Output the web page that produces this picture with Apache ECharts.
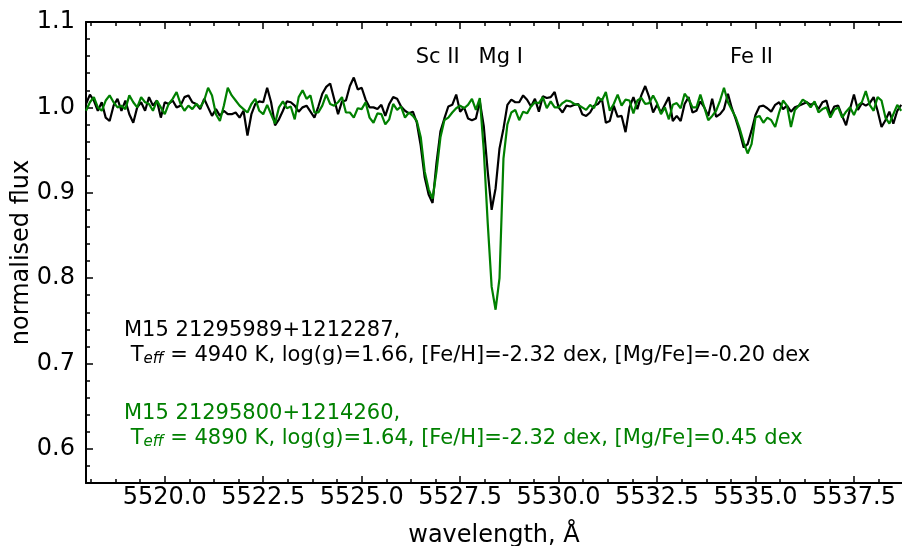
<!DOCTYPE html>
<html>
<head>
  <meta charset="UTF-8">
  <title>M15 spectra, Sc II / Mg I / Fe II</title>
  <script src="https://cdn.jsdelivr.net/npm/echarts@6/dist/echarts.min.js"></script>
  <style>
    html, body { margin: 0; background: #fff; }
    #chart { width: 902px; height: 546px; }
  </style>
</head>
<body>
<div id="chart"></div>
<script>
// wavelength grid (A), shared by both spectra
const wavelength = [
  5518.0,5518.1,5518.2,5518.3,5518.4,5518.5,5518.6,5518.7,5518.8,5518.9,
  5519.0,5519.1,5519.2,5519.3,5519.4,5519.5,5519.6,5519.7,5519.8,5519.9,
  5520.0,5520.1,5520.2,5520.3,5520.4,5520.5,5520.6,5520.7,5520.8,5520.9,
  5521.0,5521.1,5521.2,5521.3,5521.4,5521.5,5521.6,5521.7,5521.8,5521.9,
  5522.0,5522.1,5522.2,5522.3,5522.4,5522.5,5522.6,5522.7,5522.8,5522.9,
  5523.0,5523.1,5523.2,5523.3,5523.4,5523.5,5523.6,5523.7,5523.8,5523.9,
  5524.0,5524.1,5524.2,5524.3,5524.4,5524.5,5524.6,5524.7,5524.8,5524.9,
  5525.0,5525.1,5525.2,5525.3,5525.4,5525.5,5525.6,5525.7,5525.8,5525.9,
  5526.0,5526.1,5526.2,5526.3,5526.4,5526.5,5526.6,5526.7,5526.8,5526.9,
  5527.0,5527.1,5527.2,5527.3,5527.4,5527.5,5527.6,5527.7,5527.8,5527.9,
  5528.0,5528.1,5528.2,5528.3,5528.4,5528.5,5528.6,5528.7,5528.8,5528.9,
  5529.0,5529.1,5529.2,5529.3,5529.4,5529.5,5529.6,5529.7,5529.8,5529.9,
  5530.0,5530.1,5530.2,5530.3,5530.4,5530.5,5530.6,5530.7,5530.8,5530.9,
  5531.0,5531.1,5531.2,5531.3,5531.4,5531.5,5531.6,5531.7,5531.8,5531.9,
  5532.0,5532.1,5532.2,5532.3,5532.4,5532.5,5532.6,5532.7,5532.8,5532.9,
  5533.0,5533.1,5533.2,5533.3,5533.4,5533.5,5533.6,5533.7,5533.8,5533.9,
  5534.0,5534.1,5534.2,5534.3,5534.4,5534.5,5534.6,5534.7,5534.8,5534.9,
  5535.0,5535.1,5535.2,5535.3,5535.4,5535.5,5535.6,5535.7,5535.8,5535.9,
  5536.0,5536.1,5536.2,5536.3,5536.4,5536.5,5536.6,5536.7,5536.8,5536.9,
  5537.0,5537.1,5537.2,5537.3,5537.4,5537.5,5537.6,5537.7,5537.8,5537.9,
  5538.0,5538.1,5538.2,5538.3,5538.4,5538.5,5538.6,5538.7
]

// M15 21295989+1212287 (black)
const fluxBlack = [
  1.004,1.015,1.008,0.996,1.006,0.988,0.984,1.002,1.010,0.996,
  1.008,0.992,0.982,1.000,1.006,0.996,1.012,1.002,1.008,0.988,
  1.006,1.004,1.008,1.000,1.002,1.012,1.014,1.006,1.004,0.998,
  1.010,1.000,0.990,0.998,0.990,0.996,0.992,0.992,0.994,0.988,
  0.996,0.967,0.992,1.004,1.007,1.006,1.023,1.006,0.979,0.986,
  0.996,1.007,1.006,1.002,0.995,1.000,1.002,0.995,0.988,1.001,
  1.016,1.024,1.028,1.010,0.992,1.007,1.008,1.025,1.035,1.021,
  1.023,1.009,1.000,1.000,0.998,1.003,0.990,1.004,1.012,1.010,
  1.001,0.996,0.993,0.995,0.982,0.955,0.918,0.898,0.888,0.935,
  0.972,0.987,1.001,1.003,1.015,0.995,1.000,0.987,0.985,0.987,
  1.007,0.978,0.925,0.880,0.905,0.952,0.975,1.003,1.009,1.006,
  1.006,1.014,1.009,1.001,1.010,0.995,1.013,1.011,1.012,1.018,
  1.000,0.994,1.002,1.001,1.003,1.004,0.992,0.990,0.994,1.002,
  1.004,1.010,0.982,0.984,1.002,0.989,0.990,0.971,1.000,1.012,
  0.998,1.014,1.025,1.012,0.994,1.003,0.994,1.003,1.012,0.984,
  0.990,0.984,1.004,1.012,0.994,0.996,1.007,1.000,0.990,1.010,
  0.989,0.992,0.998,1.016,0.999,0.986,0.971,0.953,0.957,0.973,
  0.991,1.001,1.002,0.999,0.995,1.003,1.006,0.998,1.002,0.995,
  1.000,1.002,1.004,1.006,1.003,1.005,0.998,1.006,1.008,0.991,
  1.001,1.002,0.990,0.979,0.998,1.015,0.997,1.005,1.002,1.005,
  1.012,0.996,0.977,0.985,0.995,0.981,0.996,1.003
]

// M15 21295800+1214260 (green)
const fluxGreen = [
  0.996,1.006,1.012,1.000,0.996,1.008,1.014,1.006,1.000,1.002,
  0.998,1.014,1.006,1.000,1.012,1.006,1.004,0.996,1.008,1.000,
  0.992,1.004,1.010,1.018,1.004,0.996,1.002,0.998,1.004,1.000,
  1.008,1.023,1.014,0.992,0.984,1.002,1.023,1.014,1.008,1.002,
  0.998,0.994,1.004,1.010,0.996,0.992,1.003,0.992,0.981,1.000,
  1.007,0.999,1.001,0.986,1.012,1.020,1.010,1.014,0.994,0.994,
  1.002,1.015,1.004,1.002,1.006,1.012,0.994,0.994,0.988,0.999,
  0.998,1.006,0.988,0.982,0.993,0.992,0.980,0.986,1.004,0.997,
  1.001,0.988,0.994,0.990,0.984,0.965,0.925,0.904,0.893,0.925,
  0.965,0.985,0.988,0.994,0.999,1.002,0.999,1.003,1.010,0.997,
  1.011,0.950,0.865,0.790,0.763,0.800,0.940,0.980,0.994,0.997,
  0.985,0.995,0.993,1.001,1.006,1.005,1.012,0.999,1.007,1.000,
  1.000,1.005,1.008,1.007,1.004,1.003,1.000,0.997,1.003,0.999,
  1.012,1.008,1.018,0.996,1.004,1.015,1.002,1.009,1.008,0.993,
  1.008,1.011,1.004,1.005,1.014,1.005,0.992,1.000,0.986,1.003,
  1.005,0.999,1.016,1.010,1.000,1.000,1.015,1.000,0.985,0.990,
  0.996,1.008,1.023,1.006,0.997,0.988,0.975,0.959,0.946,0.957,
  0.988,0.990,0.982,0.988,0.985,0.977,0.994,1.008,1.002,0.977,
  0.997,1.002,1.009,1.006,1.000,1.007,0.994,0.998,1.000,0.988,
  0.997,1.000,0.988,0.995,1.000,0.991,1.002,1.006,1.019,1.003,
  0.996,1.012,1.008,0.988,0.981,0.992,1.003,0.996
]

const xMajor = [5520.0, 5522.5, 5525.0, 5527.5, 5530.0, 5532.5, 5535.0, 5537.5]
const yMajor = [0.6, 0.7, 0.8, 0.9, 1.0, 1.1]

// line identifications: label, wavelength, flux where the label sits
const lineIds = [['Sc II', 5526.93, 1.058], ['Mg I', 5528.53, 1.058], ['Fe II', 5534.9, 1.058]]

const starInfo = [
  { name: 'M15 21295989+1212287,', teff: 4940, logg: '1.66', feh: '-2.32', mgfe: '-0.20', color: '#000000' },
  { name: 'M15 21295800+1214260,', teff: 4890, logg: '1.64', feh: '-2.32', mgfe: '0.45', color: '#008000' }
]

// the figure is cut at the right, so the visible range ends a bit before 5539
const xMin = 5518, xMax = 5538.72, yMin = 0.56, yMax = 1.1

// minor ticks: 4 per major step
const xMinor = []
for (let v = 5518.125; v < xMax; v += 0.625) {
  if (Math.abs(v / 2.5 - Math.round(v / 2.5)) > 1e-6) xMinor.push(+v.toFixed(3))
}
const yMinor = []
for (let v = 0.56; v < yMax + 1e-9; v += 0.02) {
  if (Math.abs(v * 10 - Math.round(v * 10)) > 1e-6) yMinor.push(+v.toFixed(2))
}

const font = 'DejaVu Sans'
const chart = echarts.init(document.getElementById('chart'), null, { renderer: 'canvas' })

function tickAxis (pos, ticks, len, withLine, labels, name) {
  const isX = pos === 'bottom' || pos === 'top'
  const ax = {
    type: 'value',
    position: pos,
    min: isX ? xMin : yMin,
    max: isX ? xMax : yMax,
    axisLine: { show: withLine, onZero: false, lineStyle: { color: '#000', width: 2 } },
    axisTick: { show: true, inside: true, length: len, customValues: ticks, lineStyle: { color: '#000', width: 1.5 } },
    axisLabel: { show: false },
    splitLine: { show: false }
  }
  if (labels) {
    ax.axisLabel = {
      show: true,
      customValues: ticks,
      color: '#000',
      fontFamily: font,
      fontSize: 24,
      margin: isX ? 3 : 11,
      formatter: v => v.toFixed(1)
    }
  }
  if (name) {
    ax.name = name
    ax.nameLocation = 'middle'
    ax.nameGap = isX ? 41 : 52
    ax.nameMoveOverlap = false
    ax.nameTextStyle = { color: '#000', fontFamily: font, fontSize: 24 }
  }
  return ax
}

const option = {
  animation: false,
  backgroundColor: '#fff',
  grid: { left: 86, right: 0, top: 22, bottom: 63, outerBoundsMode: 'none', containLabel: false },
  xAxis: [
    tickAxis('bottom', xMajor, 7, true, true, 'wavelength, Å'),
    tickAxis('bottom', xMinor, 4, false, false),
    tickAxis('top', xMajor, 7, true, false),
    tickAxis('top', xMinor, 4, false, false)
  ],
  yAxis: [
    tickAxis('left', yMajor, 7, true, true, 'normalised flux'),
    tickAxis('left', yMinor, 4, false, false)
  ],
  series: [
    {
      type: 'line',
      showSymbol: false,
      data: wavelength.map((w, i) => [w, fluxBlack[i]]),
      lineStyle: { color: '#000000', width: 2.2 },
      itemStyle: { color: '#000000' }
    },
    {
      type: 'line',
      showSymbol: false,
      data: wavelength.map((w, i) => [w, fluxGreen[i]]),
      lineStyle: { color: '#008000', width: 2.2 },
      itemStyle: { color: '#008000' }
    }
  ]
}
chart.setOption(option)

// text annotations, placed through the axes
const graphics = lineIds.map(([label, w, f]) => {
  const p = chart.convertToPixel({ xAxisIndex: 0, yAxisIndex: 0 }, [w, f])
  return {
    type: 'text',
    x: p[0],
    y: p[1],
    style: { text: label, fill: '#000', font: '21px "DejaVu Sans"', align: 'center', verticalAlign: 'middle' }
  }
})
const infoY = [[331, 356], [414, 439]]
starInfo.forEach((s, i) => {
  graphics.push({
    type: 'text', x: 124, y: infoY[i][0],
    style: { text: s.name, fill: s.color, font: '21px "DejaVu Sans"', verticalAlign: 'middle' }
  })
  graphics.push({
    type: 'text', x: 124, y: infoY[i][1],
    style: {
      text: ' T{e|eff} = ' + s.teff + ' K, log(g)=' + s.logg + ', [Fe/H]=' + s.feh + ' dex, [Mg/Fe]=' + s.mgfe + ' dex',
      fill: s.color,
      font: '21px "DejaVu Sans"',
      verticalAlign: 'middle',
      rich: {
        e: { fontSize: 15, fontStyle: 'italic', fontFamily: font, fill: s.color, verticalAlign: 'bottom', lineHeight: 12 }
      }
    }
  })
})
chart.setOption({ graphic: graphics })
</script>
</body>
</html>
